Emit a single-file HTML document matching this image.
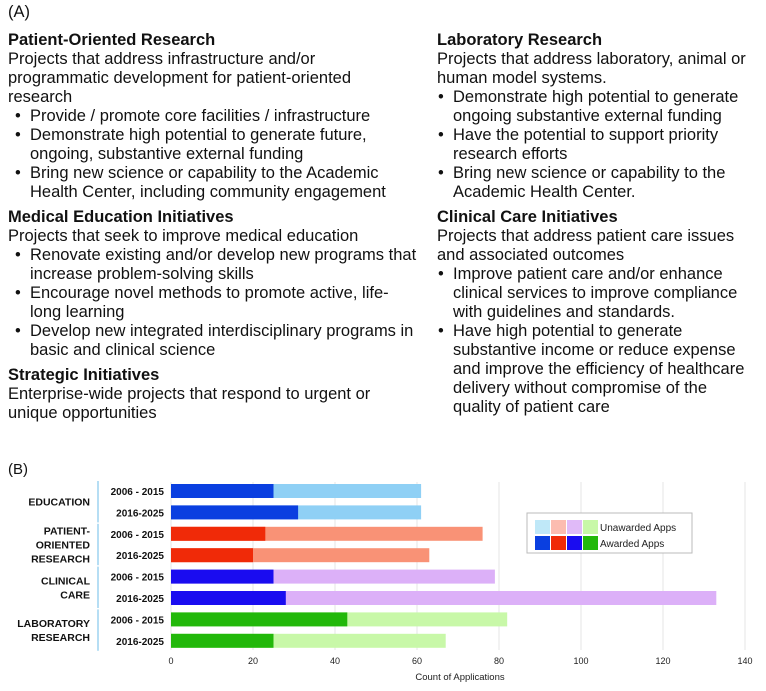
<!DOCTYPE html>
<html><head><meta charset="utf-8">
<style>
body{margin:0;background:#fff;width:766px;height:691px;position:relative;overflow:hidden;font-family:"Liberation Sans",Arial,sans-serif;color:#111}
.l{position:absolute;font-size:16.5px;line-height:20px;white-space:nowrap}
.h{font-weight:bold}
.b::before{content:"•";position:absolute;left:-15px}
</style></head><body>
<div class="l" style="left:8px;top:2px">(A)</div>
<div>
<div class="l h" style="left:8px;top:30px">Patient-Oriented Research</div>
<div class="l" style="left:8px;top:49px">Projects that address infrastructure and/or</div>
<div class="l" style="left:8px;top:68px">programmatic development for patient-oriented</div>
<div class="l" style="left:8px;top:87px">research</div>
<div class="l b" style="left:30px;top:106px">Provide / promote core facilities / infrastructure</div>
<div class="l b" style="left:30px;top:125px">Demonstrate high potential to generate future,</div>
<div class="l" style="left:30px;top:144px">ongoing, substantive external funding</div>
<div class="l b" style="left:30px;top:163px">Bring new science or capability to the Academic</div>
<div class="l" style="left:30px;top:182px">Health Center, including community engagement</div>
</div>
<div>
<div class="l h" style="left:8px;top:207px">Medical Education Initiatives</div>
<div class="l" style="left:8px;top:226px">Projects that seek to improve medical education</div>
<div class="l b" style="left:30px;top:245px">Renovate existing and/or develop new programs that</div>
<div class="l" style="left:30px;top:264px">increase problem-solving skills</div>
<div class="l b" style="left:30px;top:283px">Encourage novel methods to promote active, life-</div>
<div class="l" style="left:30px;top:302px">long learning</div>
<div class="l b" style="left:30px;top:321px">Develop new integrated interdisciplinary programs in</div>
<div class="l" style="left:30px;top:340px">basic and clinical science</div>
</div>
<div>
<div class="l h" style="left:8px;top:365px">Strategic Initiatives</div>
<div class="l" style="left:8px;top:384px">Enterprise-wide projects that respond to urgent or</div>
<div class="l" style="left:8px;top:403px">unique opportunities</div>
</div>
<div>
<div class="l h" style="left:437px;top:30px">Laboratory Research</div>
<div class="l" style="left:437px;top:49px">Projects that address laboratory, animal or</div>
<div class="l" style="left:437px;top:68px">human model systems.</div>
<div class="l b" style="left:453px;top:87px">Demonstrate high potential to generate</div>
<div class="l" style="left:453px;top:106px">ongoing substantive external funding</div>
<div class="l b" style="left:453px;top:125px">Have the potential to support priority</div>
<div class="l" style="left:453px;top:144px">research efforts</div>
<div class="l b" style="left:453px;top:163px">Bring new science or capability to the</div>
<div class="l" style="left:453px;top:182px">Academic Health Center.</div>
</div>
<div>
<div class="l h" style="left:437px;top:207px">Clinical Care Initiatives</div>
<div class="l" style="left:437px;top:226px">Projects that address patient care issues</div>
<div class="l" style="left:437px;top:245px">and associated outcomes</div>
<div class="l b" style="left:453px;top:264px">Improve patient care and/or enhance</div>
<div class="l" style="left:453px;top:283px">clinical services to improve compliance</div>
<div class="l" style="left:453px;top:302px">with guidelines and standards.</div>
<div class="l b" style="left:453px;top:321px">Have high potential to generate</div>
<div class="l" style="left:453px;top:340px">substantive income or reduce expense</div>
<div class="l" style="left:453px;top:359px">and improve the efficiency of healthcare</div>
<div class="l" style="left:453px;top:378px">delivery without compromise of the</div>
<div class="l" style="left:453px;top:397px">quality of patient care</div>
</div>
<div class="l" style="left:8px;top:460px;font-size:15px">(B)</div>
<svg id="chart" width="766" height="691" style="position:absolute;left:0;top:0" font-family="Liberation Sans, Arial, sans-serif"></svg>
<script>
const rowLabels=["2006 - 2015","2016-2025","2006 - 2015","2016-2025","2006 - 2015","2016-2025","2006 - 2015","2016-2025"];
const awarded=[25,31,23,20,25,28,43,25];
const totals=[61,61,76,63,79,133,82,67];
const ticks=[0,20,40,60,80,100,120,140];
const groups=[["EDUCATION"],["PATIENT-","ORIENTED","RESEARCH"],["CLINICAL","CARE"],["LABORATORY","RESEARCH"]];
const awardColors=["#0a3fe0","#f02a08","#1a0cf0","#22b80a"];
const unawardColors=["#8fd0f5","#f99276","#dcb0f8","#c8f8a8"];
const svg=document.getElementById('chart');
const NS="http://www.w3.org/2000/svg";
const x=v=>171+v*4.1;
const y=i=>491+i*21.4;
function mk(t,a){const e=document.createElementNS(NS,t);for(const k in a)e.setAttribute(k,a[k]);svg.appendChild(e);return e;}
ticks.forEach(t=>{
  const g=mk('line',{x1:x(t),x2:x(t),y1:482,y2:650,stroke:'#e4e4e4','stroke-width':1});
  
  
  const tl=mk('text',{x:x(t),y:664,'font-size':9,'text-anchor':'middle',fill:'#222'});
  tl.textContent=t;
  
  
});
rowLabels.forEach((lab,i)=>{
  const gi=Math.floor(i/2);
  const r2=mk('rect',{x:x(0),y:y(i)-7,width:x(totals[i])-x(0),height:14,fill:unawardColors[gi]});
  
  
  const r1=mk('rect',{x:x(0),y:y(i)-7,width:x(awarded[i])-x(0),height:14,fill:awardColors[gi]});
  
  
  const t=mk('text',{x:164,y:y(i)+4,'font-size':10,'font-weight':'bold','text-anchor':'end',fill:'#111'});
  t.textContent=lab;
  
  
});
groups.forEach((lines,g)=>{
  const c=(y(2*g)+y(2*g+1))/2;
  const ln=mk('line',{x1:98,x2:98,y1:y(2*g)-10,y2:y(2*g+1)+10,stroke:'#9dd3f0','stroke-width':1.5});
  
  
  lines.forEach((s,k)=>{
    const t=mk('text',{x:90,y:c+4+(k-(lines.length-1)/2)*14,'font-size':10.5,'font-weight':'bold','text-anchor':'end',fill:'#111'});
    t.textContent=s;
    
    
  });
});
const at=mk('text',{x:460,y:680,'font-size':9.5,'text-anchor':'middle',fill:'#222'});
at.textContent="Count of Applications";


const lb=mk('rect',{x:527,y:513,width:165,height:40,fill:'#fff',stroke:'#bbb'});


[0,1,2,3].forEach(k=>{
  const a=mk('rect',{x:535+k*16,y:520,width:15,height:14,fill:['#bfe8f8','#fcbcb0','#e0baf8','#c8f8a8'][k]});
  
  
  const b=mk('rect',{x:535+k*16,y:536,width:15,height:14,fill:awardColors[k]});
  
  
});
const l1=mk('text',{x:600,y:531,'font-size':10,fill:'#222'});l1.textContent="Unawarded Apps";


const l2=mk('text',{x:600,y:547,'font-size':10,fill:'#222'});l2.textContent="Awarded Apps";


</script>
</body></html>
